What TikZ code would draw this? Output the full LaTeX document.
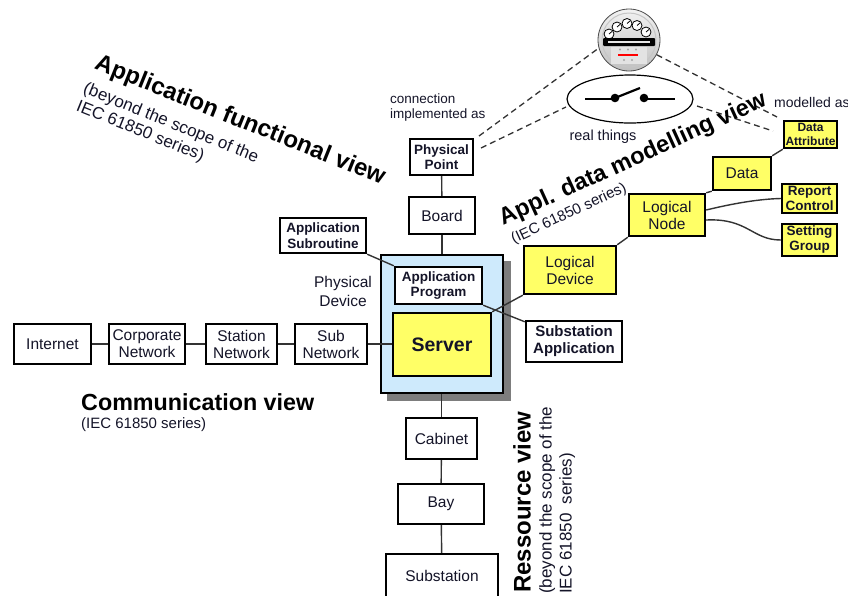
\documentclass[tikz,border=0pt]{standalone}
\usepackage{fontspec}
\setmainfont{Liberation Sans}
\usetikzlibrary{shapes.geometric,calc}
\definecolor{boxyellow}{RGB}{255,255,102}
\definecolor{devblue}{RGB}{206,234,252}
\definecolor{shadowgray}{RGB}{125,125,125}
\definecolor{inkdark}{RGB}{20,20,40}
\begin{document}
\begin{tikzpicture}[x=1pt,y=-1pt,
  box/.style={draw=black, line width=2.4pt, fill=white, inner sep=1pt, align=center,
    text=inkdark, font=\fontsize{15.5}{17}\selectfont},
  ybox/.style={box, fill=boxyellow},
  bbox/.style={box, font=\bfseries\fontsize{13.5}{15.5}\selectfont},
  ybbox/.style={bbox, fill=boxyellow},
  link/.style={draw=black!80, line width=1.4pt},
  dlink/.style={draw=black!80, line width=1.3pt, dash pattern=on 6pt off 4pt},
  txt/.style={inner sep=0, text=inkdark, align=left},
  viewtitle/.style={inner sep=0, text=black, font=\bfseries\fontsize{24}{28}\selectfont},
]
\useasboundingbox (0,0) rectangle (848,595);

% ---------- communication chain ----------
\node[box, minimum width=77, minimum height=40] (internet) at (52.5,344) {Internet};
\node[box, minimum width=76, minimum height=40] (corp) at (147,344) {Corporate\\Network};
\node[box, minimum width=71, minimum height=40] (station) at (241.5,344) {Station\\Network};
\node[box, minimum width=72, minimum height=40] (subnet) at (331,344) {Sub\\Network};

% ---------- physical device ----------
\node[fill=shadowgray, minimum width=124, minimum height=140, inner sep=0] (pdevshadow) at (449,331) {};
\node[draw=black, line width=2pt, fill=devblue, minimum width=122, minimum height=138, inner sep=0] (pdev) at (442,324) {};
\node[bbox, minimum width=87, minimum height=37] (appprog) at (438.5,285.5) {Application\\Program};
\node[ybox, minimum width=98, minimum height=63, font=\bfseries\fontsize{19.5}{22}\selectfont] (server) at (442,344.5) {Server};
\node[txt, align=center, font=\fontsize{15.5}{19}\selectfont] (pdevlabel) at (343,291) {Physical\\Device};

% ---------- functional side ----------
\node[box, minimum width=66, minimum height=37] (board) at (442,215.5) {Board};
\node[bbox, minimum width=63, minimum height=36] (pp) at (441.5,157) {Physical\\Point};
\node[bbox, minimum width=86, minimum height=35] (appsub) at (323,235.5) {Application\\Subroutine};

% ---------- data model ----------
\node[ybox, minimum width=92, minimum height=48] (ld) at (570,270) {Logical\\Device};
\node[bbox, minimum width=96, minimum height=41, font=\bfseries\fontsize{15}{17}\selectfont] (subapp) at (574,341.5) {Substation\\Application};
\node[ybox, minimum width=76, minimum height=42] (ln) at (667,215) {Logical\\Node};
\node[ybox, minimum width=58, minimum height=33] (data) at (742,173.5) {Data};
\node[ybbox, minimum width=53, minimum height=27, font=\bfseries\fontsize{12}{13.5}\selectfont] (da) at (810.5,134.5) {Data\\Attribute};
\node[ybbox, minimum width=55, minimum height=29, font=\bfseries\fontsize{13.5}{14.5}\selectfont] (rc) at (809.5,198.5) {Report\\Control};
\node[ybbox, minimum width=55, minimum height=32, font=\bfseries\fontsize{13.5}{15}\selectfont] (sg) at (809.5,240) {Setting\\Group};

% ---------- resource chain ----------
\node[box, minimum width=71, minimum height=41] (cabinet) at (441.5,438.5) {Cabinet};
\node[box, minimum width=86, minimum height=40] (bay) at (441,504) {Bay};
\node[box, minimum width=112, minimum height=43] (substation) at (442,575.5) {Substation};

% ---------- connectors ----------
\draw[link] (internet) -- (corp);
\draw[link] (corp) -- (station);
\draw[link] (station) -- (subnet);
\draw[link] (subnet.east) -- (subnet.east -| server.west);
\draw[link] (pp) -- (board);
\draw[link] (board) -- (board |- pdev.north);
\draw[link] (pdev.south -| cabinet.north) -- (cabinet);
\draw[link] (cabinet) -- (bay);
\draw[link] (bay) -- (substation);
\draw[link] (appsub.south east) -- (appprog.north west);
\draw[link] (appprog.south east) -- ($(subapp.north west)+(0,2)$);
\draw[link] (server.north east) -- (ld.south west);
\draw[link] (ln.south west) -- (ld.north east);
\draw[link] (ln.north east) -- (data.south west);
\draw[link] (data.north east) -- (da.south west);
\draw[link] ($(ln.east)+(0,-5)$) .. controls (735,203) and (760,199) .. (rc.west);
\draw[link] ($(ln.east)+(0,5)$) .. controls (748,218) and (752,240) .. (sg.west);

% ---------- real things: meter ----------
\node[circle, minimum size=62, inner sep=0, draw=gray!60!black, line width=0.8pt,
  top color=gray!10, bottom color=gray!50] (meter) at (629,40) {};
\draw[gray!45, line width=1pt] (629,40) circle (27);
\foreach \dx/\dy in {609/34, 617/27, 627/23.5, 637/25.5, 646/32}{
  \draw[fill=white, line width=0.8pt] (\dx,\dy) circle (5);
  \draw[line width=0.8pt] (\dx,\dy) -- ++(3,-2.5);
}
\fill[black, rounded corners=1pt] (603,38) rectangle (655,46);
\fill[gray!20] (608,40.5) rectangle (650,43);
\fill[gray!22] (611,47) rectangle (647,64);
\foreach \dx in {620,628,636}{\fill[gray!70] (\dx,49.5) circle (1.1);}
\fill[red] (618,53.5) rectangle (638,55.5);
\foreach \dx in {624,632}{\fill[gray!70] (\dx,60) circle (1.1);}

% ---------- real things: switch ----------
\node[ellipse, draw=black, line width=1.2pt, minimum width=126, minimum height=48, inner sep=0] (sw) at (630,99) {};
\draw[line width=2pt] (585,99) -- (615,99);
\draw[line width=2.2pt] (615,98) -- (640,88);
\fill (615,98) circle (4.3);
\fill (644,98) circle (4.3);
\draw[line width=2pt] (644,99) -- (675,99);
\node[txt, anchor=base, font=\fontsize{14.5}{16}\selectfont] (realthings) at (603,140) {real things};

% ---------- dashed mappings ----------
\coordinate (ppout1) at (479,136);
\coordinate (ppout2) at (481,148);
\coordinate (swin) at (566,107);
\coordinate (swout) at (697,106);
\coordinate (dain1) at (777,117);
\coordinate (dain2) at (773,131);
\draw[dlink] (ppout1) -- (meter.195);
\draw[dlink] (ppout2) -- (swin);
\draw[dlink] (meter.-28) -- (dain1);
\draw[dlink] (swout) -- (dain2);

\node[txt, anchor=north west, font=\fontsize{13.5}{15}\selectfont] (connlabel) at (390,94) {connection\\implemented as};
\node[txt, anchor=base west, font=\fontsize{14}{16}\selectfont] (modlabel) at (774,107) {modelled as};

% ---------- view titles ----------
\node[viewtitle, rotate=-22] (afv) at (240,121) {Application functional view};
\node[txt, rotate=-22, anchor=north west, font=\fontsize{17}{19}\selectfont] (afvsub) at (87,81) {(beyond the scope of the\\IEC 61850 series)};

\node[viewtitle, rotate=24.5, font=\bfseries\fontsize{23.5}{28}\selectfont] (admv) at (633,160) {Appl. data modelling view};
\node[txt, rotate=25, font=\fontsize{15}{17}\selectfont] (admvsub) at (569,214) {(IEC 61850 series)};

\node[viewtitle, anchor=base west, font=\bfseries\fontsize{23.3}{26}\selectfont] (cv) at (81,410) {Communication view};
\node[txt, anchor=base west, font=\fontsize{15}{17}\selectfont] (cvsub) at (81,428) {(IEC 61850 series)};

\node[viewtitle, rotate=90] (rv) at (522,502) {Ressource view};
\node[txt, rotate=90, anchor=north west, font=\fontsize{17}{20}\selectfont] (rvsub) at (539,594) {(beyond the scope of the\\IEC 61850\ \ series)};
\end{tikzpicture}
\end{document}
